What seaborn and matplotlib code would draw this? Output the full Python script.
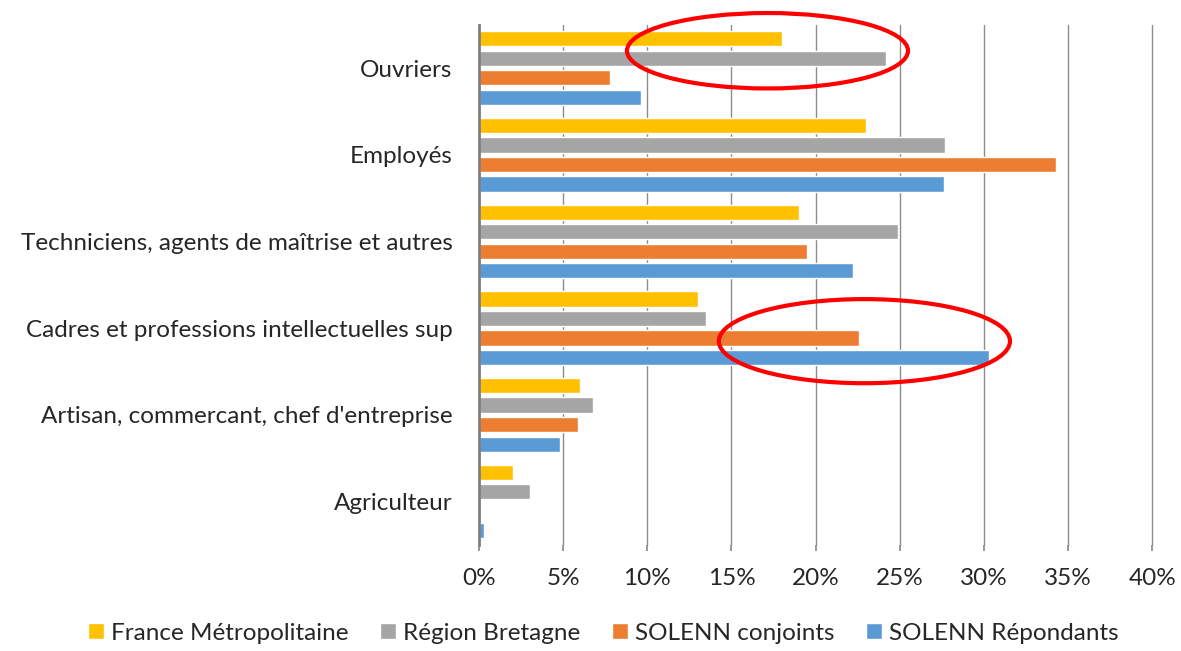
import pandas as pd
import matplotlib
matplotlib.use("Agg")
import matplotlib.pyplot as plt
import seaborn as sns
from matplotlib.patches import Ellipse
from matplotlib.ticker import PercentFormatter

sns.set_theme(style="white")
plt.rcParams['font.family'] = ['Lato', 'DejaVu Sans']

# catégories (du haut vers le bas)
categories = ["Ouvriers", "Employés", "Techniciens, agents de maîtrise et autres",
              "Cadres et professions intellectuelles sup",
              "Artisan, commercant, chef d'entreprise", "Agriculteur"]
series = ["France Métropolitaine", "Région Bretagne", "SOLENN conjoints", "SOLENN Répondants"]

france = [18.0, 23.0, 19.0, 13.0, 6.0, 2.0]
bretagne = [24.2, 27.7, 24.9, 13.5, 6.8, 3.0]
conjoints = [7.8, 34.3, 19.5, 22.6, 5.9, 0.0]
repondants = [9.6, 27.6, 22.2, 30.3, 4.8, 0.3]

colors = ["#FFC000", "#A5A5A5", "#ED7D31", "#5B9BD5"]

df = pd.DataFrame({
    "cat": categories * 4,
    "serie": sum([[s] * len(categories) for s in series], []),
    "val": france + bretagne + conjoints + repondants,
})

fig = plt.figure(figsize=(11.81, 6.51), dpi=100)
ax = fig.add_axes([0.4056, 0.163, 0.57, 0.799])

sns.barplot(data=df, y="cat", x="val", hue="serie", order=categories,
            hue_order=series, palette=colors, orient="h", width=0.9, gap=0.22,
            saturation=1, ax=ax, legend=True)

ax.set_xlim(0, 40)
ax.set_xticks(range(0, 41, 5))
ax.xaxis.set_major_formatter(PercentFormatter(decimals=0))
ax.grid(axis="x", color="#8c8c8c", linewidth=1)
for gl in ax.get_xgridlines():
    gl.set_clip_on(False)
ax.set_axisbelow(True)
for s in ["top", "right", "bottom"]:
    ax.spines[s].set_visible(False)
ax.spines["left"].set_color("#7f7f7f")
ax.spines["left"].set_linewidth(2)
ax.set_xlabel("")
ax.set_ylabel("")
ax.tick_params(axis="x", labelsize=17.5, pad=13, length=4, color="#8c8c8c", bottom=True)
ax.tick_params(axis="y", labelsize=17.5, pad=19, length=0)

# ellipses rouges
ax.add_patch(Ellipse((17.14, -0.2), 16.7, 0.87, fill=False, edgecolor="#FF0000",
                     linewidth=3, clip_on=False))
ax.add_patch(Ellipse((22.9, 3.15), 17.3, 0.97, fill=False, edgecolor="#FF0000",
                     linewidth=3, clip_on=False))

handles, labels = ax.get_legend_handles_labels()
ax.get_legend().remove()
fig.legend(handles, labels, loc="center", bbox_to_anchor=(0.511, 0.027), ncol=4,
           frameon=False, fontsize=17.5, handlelength=0.65, handleheight=0.65,
           handletextpad=0.3, columnspacing=1.3)

fig.savefig("out.png", dpi=100)
